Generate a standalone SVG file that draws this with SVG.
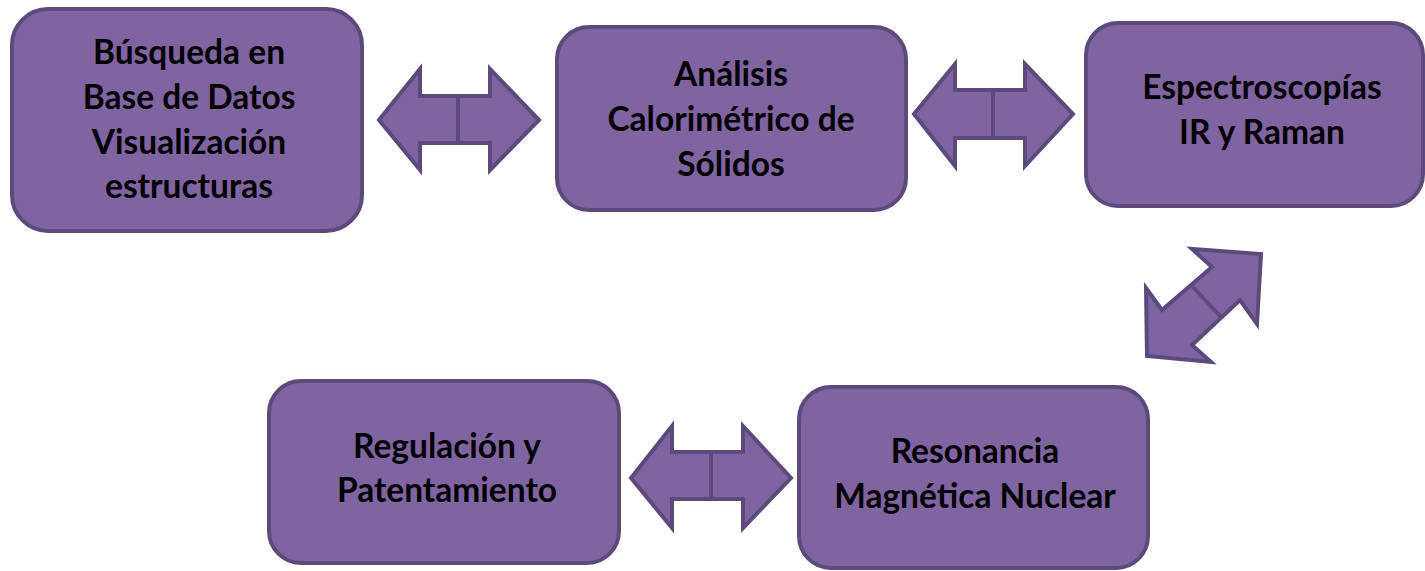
<svg xmlns="http://www.w3.org/2000/svg" width="1425" height="571" viewBox="0 0 1425 571">
<style>
.box{fill:#8064a2;stroke:#5c4a7c;stroke-width:4}
.arr{fill:#8064a2;stroke:#5c4a7c;stroke-width:4;stroke-linejoin:miter}
.mid{stroke:#5c4a7c;stroke-width:4;fill:none}
text{font-family:Lato,"Open Sans","Liberation Sans",sans-serif;font-weight:bold;font-size:33.5px;fill:#000;text-anchor:middle}
</style>
<rect width="1425" height="571" fill="#fff"/>
<g id="node-busqueda">
<rect class="box" x="12" y="9" width="350" height="222" rx="36"/>
<text x="189" y="64">Búsqueda en</text>
<text x="189" y="109">Base de Datos</text>
<text x="189" y="154">Visualización</text>
<text x="189" y="198">estructuras</text>
</g>
<g id="node-analisis">
<rect class="box" x="557" y="27" width="349" height="183" rx="32"/>
<text x="731" y="86">Análisis</text>
<text x="731" y="131">Calorimétrico de</text>
<text x="731" y="176">Sólidos</text>
</g>
<g id="node-espectro">
<rect class="box" x="1086" y="23" width="337" height="183" rx="32"/>
<text x="1262" y="99">Espectroscopías</text>
<text x="1262" y="144">IR y Raman</text>
</g>
<g id="node-regulacion">
<rect class="box" x="269" y="381" width="350" height="182" rx="32"/>
<text x="447" y="458">Regulación y</text>
<text x="447" y="502">Patentamiento</text>
</g>
<g id="node-rmn">
<rect class="box" x="799" y="387" width="349" height="181" rx="32"/>
<text x="975" y="463">Resonancia</text>
<text x="975" y="508">Magnética Nuclear</text>
</g>
<g id="connectors">
<polygon class="arr" points="379,120 420,69 420,96 490,96 490,69 539,120 490,170 490,143 420,143 420,170"/>
<line class="mid" x1="458" y1="96" x2="458" y2="143"/>
<polygon class="arr" points="914,114 955,64 955,90 1025,90 1025,64 1073,114 1025,166 1025,138 955,138 955,166"/>
<line class="mid" x1="993" y1="90" x2="993" y2="138"/>
<polygon class="arr" points="631,478 672,426 672,452 743,452 743,426 791,478 743,528 743,499 672,499 672,528"/>
<line class="mid" x1="711" y1="452" x2="711" y2="499"/>
<polygon class="arr" points="1261,254 1257,324 1240,300 1192,345 1211,362 1147,356 1146,288 1162,310 1212,267 1192,249"/>
<line class="mid" x1="1192" y1="286" x2="1222" y2="318"/>
</g>
</svg>
